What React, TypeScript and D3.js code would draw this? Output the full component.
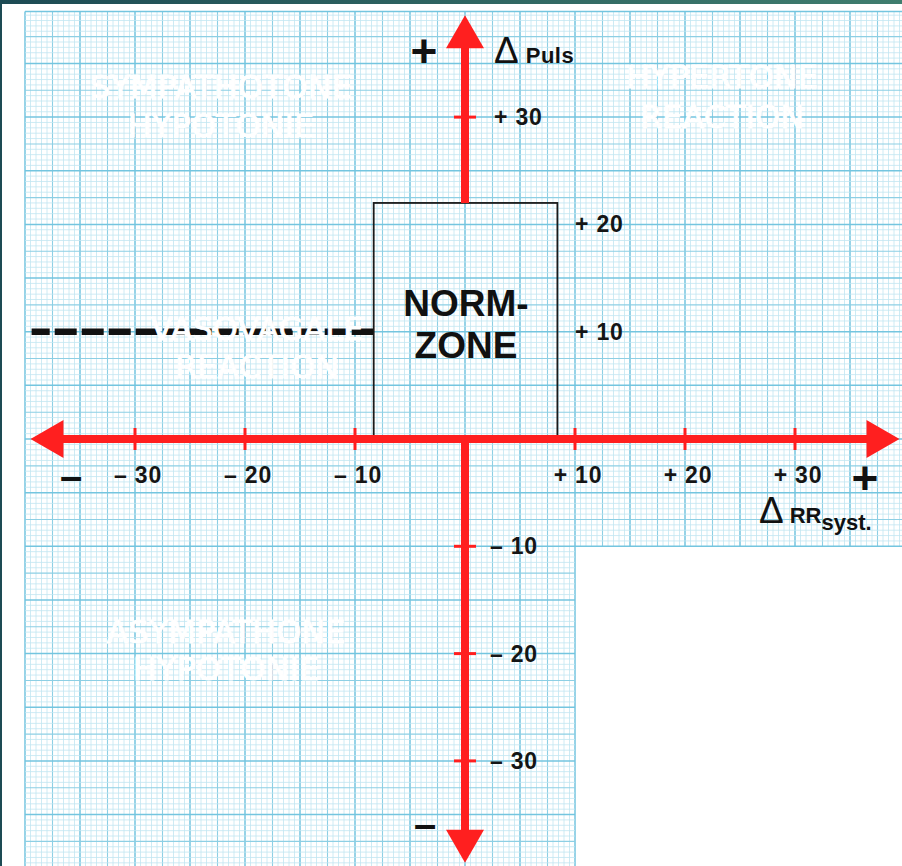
import React from "react";
import * as d3 from "d3";

const W = 902;
const H = 866;

// axis ticks (values in Δ units)
const xTickValues = [-30, -20, -10, 10, 20, 30];
const xTickLabels = ["– 30", "– 20", "– 10", "+ 10", "+ 20", "+ 30"];
const yTickValues = [30, -10, -20, -30];
const yLabelValues = [30, 20, 10, -10, -20, -30];
const yTickLabels = ["+ 30", "+ 20", "+ 10", "– 10", "– 20", "– 30"];

// norm zone rectangle: [xMin, xMax, yMin, yMax]
const normZone = [-8.3, 8.4, 0, 22];
// vasovagal threshold dashed line: y value and x range
const vasovagalY = 10;
const vasovagalX = [-39.4, -8.3];

// quadrant labels
const quadrantTitles = [
  ["SYMPATHOTONE", "HYPOTONIE"],
  ["HYPERTONE", "REACTION"],
  ["VASOVAGALE", "REACTION"],
  ["ASYMPATHONE", "HYPOTONIE"],
];

const GRID_MIN = -40;
const GRID_MAX = 40;
const AXIS_END = 39.5;
const CUT = 10; // lower-right paper cut-out begins at +10 / -10

const FONT = "'Liberation Sans', Arial, Helvetica, sans-serif";
const RED = "#ff1f1f";

export default function App() {
  const x = d3.scaleLinear().domain([GRID_MIN, GRID_MAX]).range([25, 905]);
  const y = d3.scaleLinear().domain([GRID_MIN, GRID_MAX]).range([868.2, 9.8]);
  const gridTop = 11.5;
  const gridLeft = 25;

  const steps = d3.range(GRID_MIN * 2, GRID_MAX * 2 + 1).map((i) => i / 2);
  const lineStyle = (v: number) => {
    const k = Math.round(v * 2);
    if (k % 10 === 0) return { stroke: "#74c5df", w: 1.5 };
    if (k % 5 === 0) return { stroke: "#8dcfe4", w: 1.1 };
    return { stroke: "#c2e6f1", w: 0.8 };
  };

  const x0 = x(0);
  const y0 = y(0);
  const AL = 33; // arrow length
  const AW = 19; // arrow half width

  const leftTip = x(-AXIS_END);
  const rightTip = x(AXIS_END);
  const topTip = y(AXIS_END);
  const botTip = y(-AXIS_END);

  const quadPos = [
    { cx: 221, y: 98 },
    { cx: 722, y: 88 },
    { cx: 257, y: 340 },
    { cx: 226, y: 643 },
  ];
  const lineGap = [39, 40, 38, 37];

  const labelProps = {
    fontFamily: FONT,
    fontWeight: "bold" as const,
    fontSize: 23,
    letterSpacing: 0.8,
    fill: "#151515",
  };

  return (
    <svg
      width={W}
      height={H}
      style={{ position: "absolute", left: 0, top: 0, display: "block" }}
    >
      <defs>
        <linearGradient id="frame" x1="0" x2="1" y1="0" y2="0">
          <stop offset="0" stopColor="#1d4b54" />
          <stop offset="1" stopColor="#3f7d6e" />
        </linearGradient>
      </defs>
      <rect x={0} y={0} width={W} height={H} fill="#ffffff" />
      <rect x={0} y={0} width={W} height={4} fill="url(#frame)" />
      <rect x={0} y={0} width={2} height={H} fill="#1d4b54" />

      {/* graph paper grid */}
      <g>
        {steps
          .filter((v) => x(v) >= gridLeft - 0.5 && x(v) <= W)
          .map((v) => {
            const s = lineStyle(v);
            const yEnd = v > CUT ? y(-CUT) : H;
            return (
              <line
                key={"gx" + v}
                x1={x(v)}
                x2={x(v)}
                y1={gridTop}
                y2={yEnd}
                stroke={s.stroke}
                strokeWidth={s.w}
              />
            );
          })}
        {steps.map((v) => {
          const s = lineStyle(v);
          const yy = Math.max(y(v), gridTop);
          const xEnd = v < -CUT ? x(CUT) : W;
          return (
            <line
              key={"gy" + v}
              x1={gridLeft}
              x2={xEnd}
              y1={yy}
              y2={yy}
              stroke={s.stroke}
              strokeWidth={s.w}
            />
          );
        })}
      </g>

      {/* vasovagal dashed line */}
      <line
        x1={x(vasovagalX[1])}
        x2={x(vasovagalX[0])}
        y1={y(vasovagalY)}
        y2={y(vasovagalY)}
        stroke="#111"
        strokeWidth={6.5}
        strokeDasharray="22 5"
      />

      {/* quadrant titles (white) */}
      {quadrantTitles.map((lines, i) => (
        <g key={"q" + i}>
          {lines.map((t, j) => (
            <text
              key={j}
              x={quadPos[i].cx}
              y={quadPos[i].y + j * lineGap[i]}
              textAnchor="middle"
              fontFamily="'DejaVu Sans', sans-serif"
              fontSize={32}
              fill="#ffffff"
              stroke="#ffffff"
              strokeWidth={0.8}
            >
              {t}
            </text>
          ))}
        </g>
      ))}

      {/* norm zone */}
      <rect
        x={x(normZone[0])}
        y={y(normZone[3])}
        width={x(normZone[1]) - x(normZone[0])}
        height={y(normZone[2]) - y(normZone[3])}
        fill="none"
        stroke="#1a1a1a"
        strokeWidth={1.8}
      />
      <text
        x={466}
        y={316}
        textAnchor="middle"
        fontFamily={FONT}
        fontWeight="bold"
        fontSize={37}
        fill="#111"
      >
        NORM-
      </text>
      <text
        x={466}
        y={358}
        textAnchor="middle"
        fontFamily={FONT}
        fontWeight="bold"
        fontSize={37}
        fill="#111"
      >
        ZONE
      </text>

      {/* red axes */}
      <line
        x1={leftTip + AL - 2}
        x2={rightTip - AL + 2}
        y1={y0}
        y2={y0}
        stroke={RED}
        strokeWidth={8}
      />
      <line
        x1={x0}
        x2={x0}
        y1={topTip + AL - 2}
        y2={y(normZone[3])}
        stroke={RED}
        strokeWidth={8}
      />
      <line
        x1={x0}
        x2={x0}
        y1={y0}
        y2={botTip - AL + 2}
        stroke={RED}
        strokeWidth={8}
      />
      <polygon
        points={`${leftTip},${y0} ${leftTip + AL},${y0 - AW} ${leftTip + AL},${y0 + AW}`}
        fill={RED}
      />
      <polygon
        points={`${rightTip},${y0} ${rightTip - AL},${y0 - AW} ${rightTip - AL},${y0 + AW}`}
        fill={RED}
      />
      <polygon
        points={`${x0},${topTip} ${x0 - AW},${topTip + AL} ${x0 + AW},${topTip + AL}`}
        fill={RED}
      />
      <polygon
        points={`${x0},${botTip} ${x0 - AW},${botTip - AL} ${x0 + AW},${botTip - AL}`}
        fill={RED}
      />

      {/* ticks */}
      {xTickValues.map((v) => (
        <line
          key={"xt" + v}
          x1={x(v)}
          x2={x(v)}
          y1={y0 - 11}
          y2={y0 + 11}
          stroke={RED}
          strokeWidth={3}
        />
      ))}
      {yTickValues.map((v) => (
        <line
          key={"yt" + v}
          x1={x0 - 11}
          x2={x0 + 11}
          y1={y(v)}
          y2={y(v)}
          stroke={RED}
          strokeWidth={3}
        />
      ))}

      {/* tick labels */}
      {xTickValues.map((v, i) => (
        <text
          key={"xl" + v}
          x={x(v) + 3}
          y={483}
          textAnchor="middle"
          {...labelProps}
        >
          {xTickLabels[i]}
        </text>
      ))}
      {yLabelValues.map((v, i) => {
        const lx = v === 20 || v === 10 ? 575 : v > 0 ? 494 : 490;
        return (
          <text
            key={"yl" + v}
            x={lx}
            y={y(v) + 8}
            textAnchor="start"
            {...labelProps}
          >
            {yTickLabels[i]}
          </text>
        );
      })}

      {/* axis end signs */}
      <text x={424} y={67} textAnchor="middle" fontFamily={FONT} fontWeight="bold" fontSize={46} fill="#111">
        +
      </text>
      <text x={865} y={494} textAnchor="middle" fontFamily={FONT} fontWeight="bold" fontSize={46} fill="#111">
        +
      </text>
      <text x={71} y={490} textAnchor="middle" fontFamily={FONT} fontWeight="bold" fontSize={40} fill="#111">
        –
      </text>
      <text x={425} y={838} textAnchor="middle" fontFamily={FONT} fontWeight="bold" fontSize={40} fill="#111">
        –
      </text>

      {/* axis titles */}
      <text x={494} y={63} fontFamily={FONT} fill="#111">
        <tspan fontSize={37}>Δ</tspan>
        <tspan dx={7} fontSize={22} fontWeight="bold" letterSpacing={0.5}>
          Puls
        </tspan>
      </text>
      <text x={759} y={523} fontFamily={FONT} fill="#111">
        <tspan fontSize={37}>Δ</tspan>
        <tspan dx={6} fontSize={22} fontWeight="bold">
          RR
        </tspan>
        <tspan dy={7} fontSize={22} fontWeight="bold">
          syst.
        </tspan>
      </text>
    </svg>
  );
}
